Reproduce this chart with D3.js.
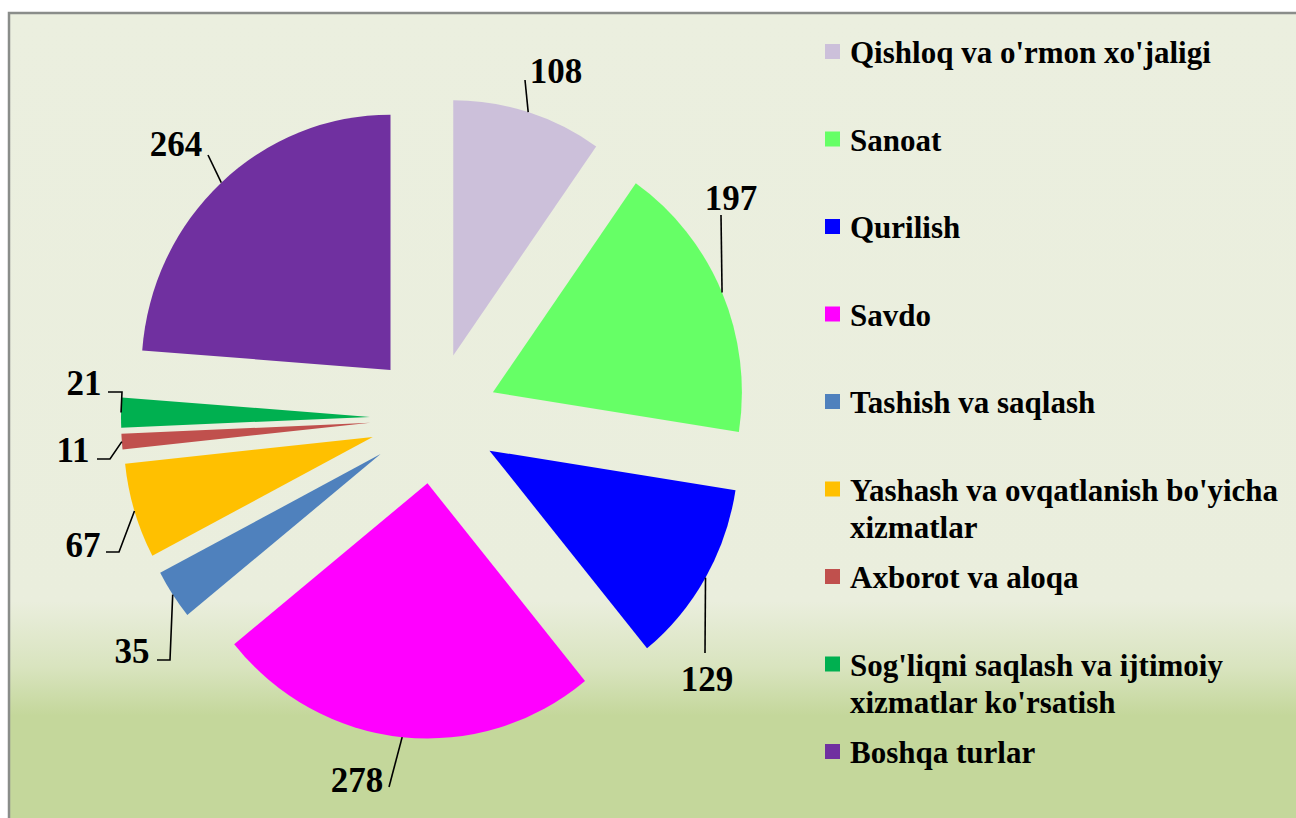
<!DOCTYPE html>
<html>
<head>
<meta charset="utf-8">
<script src="https://cdn.jsdelivr.net/npm/d3@7"></script>
<style>
  html, body { margin: 0; padding: 0; background: #fff; }
  svg { display: block; }
</style>
</head>
<body>
<svg id="chart" width="1296" height="818"></svg>
<script>
// categories, values and slice colours
const categories = [
  "Qishloq va o'rmon xo'jaligi",
  "Sanoat",
  "Qurilish",
  "Savdo",
  "Tashish va saqlash",
  "Yashash va ovqatlanish bo'yicha xizmatlar",
  "Axborot va aloqa",
  "Sog'liqni saqlash va ijtimoiy xizmatlar ko'rsatish",
  "Boshqa turlar"
];
const values = [108, 197, 129, 278, 35, 67, 11, 21, 264];
const colors = ["#ccc0da", "#66ff66", "#0000ff", "#ff00ff", "#4f81bd", "#ffc000", "#c0504d", "#00b050", "#7030a0"];

// data label placement: text anchor point + leader line bend points
const labelLayout = [
  { x: 556, y: 83,  pts: [[525, 80]] },
  { x: 731, y: 210, pts: [[721, 215]] },
  { x: 707, y: 691, pts: [[705, 653]] },
  { x: 357, y: 792, pts: [[389, 787]] },
  { x: 132, y: 663, pts: [[170, 660], [157, 660]] },
  { x: 83,  y: 557, pts: [[119, 552], [106, 552]] },
  { x: 73,  y: 462, pts: [[110, 459], [97, 459]] },
  { x: 84,  y: 395, pts: [[122, 392], [108, 392]] },
  { x: 176, y: 156, pts: [[208, 155]] }
];

const svg = d3.select("#chart");
const W = 1296, H = 818;

// background gradient
const defs = svg.append("defs");
const grad = defs.append("linearGradient")
  .attr("id", "bg").attr("x1", 0).attr("y1", 0).attr("x2", 0).attr("y2", 1);
grad.append("stop").attr("offset", "0%").attr("stop-color", "#ebefdf");
grad.append("stop").attr("offset", "72%").attr("stop-color", "#eaeedd");
grad.append("stop").attr("offset", "80%").attr("stop-color", "#d9e4bf");
grad.append("stop").attr("offset", "86%").attr("stop-color", "#c4d79b");
grad.append("stop").attr("offset", "100%").attr("stop-color", "#c4d79b");

svg.append("rect")
  .attr("x", 9).attr("y", 13)
  .attr("width", W + 20).attr("height", 817)
  .attr("fill", "url(#bg)")
  .attr("stroke", "#8a8d8a")
  .attr("stroke-width", 2.5);

// pie
const cx = 434, cy = 418, R = 249, explode = 64, sy = 1.025;

const pie = d3.pie().sort(null).value(d => d)(values);
const arc = d3.arc().innerRadius(0).outerRadius(R);

const g = svg.append("g")
  .attr("transform", `translate(${cx},${cy}) scale(1,${sy})`);

g.selectAll("path")
  .data(pie)
  .join("path")
  .attr("d", arc)
  .attr("fill", (d, i) => colors[i])
  .attr("transform", d => {
    const a = (d.startAngle + d.endAngle) / 2;
    return `translate(${explode * Math.sin(a)},${-explode * Math.cos(a)})`;
  });

// leader lines + labels
const lineGen = d3.line();
const labels = svg.append("g");

pie.forEach((d, i) => {
  const a = (d.startAngle + d.endAngle) / 2;
  const start = [cx + (explode + R) * Math.sin(a), cy - sy * (explode + R) * Math.cos(a)];
  const L = labelLayout[i];
  labels.append("path")
    .attr("d", lineGen([start, ...L.pts]))
    .attr("fill", "none")
    .attr("stroke", "#000")
    .attr("stroke-width", 1.6);
  labels.append("text")
    .attr("x", L.x).attr("y", L.y)
    .attr("text-anchor", "middle")
    .attr("font-family", "'Liberation Serif', 'Times New Roman', serif")
    .attr("font-weight", "bold")
    .attr("font-size", 35)
    .attr("fill", "#000")
    .text(values[i]);
});

// legend
const legend = svg.append("g");
const legX = 825, legY0 = 63, legStep = 87.5, lineH = 37, maxW = 440;

categories.forEach((name, i) => {
  const by = legY0 + i * legStep;
  legend.append("rect")
    .attr("x", legX).attr("y", by - 19)
    .attr("width", 15).attr("height", 15)
    .attr("fill", colors[i]);
  const t = legend.append("text")
    .attr("x", legX + 25).attr("y", by)
    .attr("font-family", "'Liberation Serif', 'Times New Roman', serif")
    .attr("font-weight", "bold")
    .attr("font-size", 31)
    .attr("fill", "#000");
  // simple word wrap
  const words = name.split(" ");
  let line = [], lineNo = 0;
  let tspan = t.append("tspan").attr("x", legX + 25).attr("y", by);
  words.forEach(w => {
    line.push(w);
    tspan.text(line.join(" "));
    if (tspan.node().getComputedTextLength() > maxW && line.length > 1) {
      line.pop();
      tspan.text(line.join(" "));
      line = [w];
      lineNo++;
      tspan = t.append("tspan").attr("x", legX + 25).attr("y", by + lineNo * lineH).text(w);
    }
  });
});
</script>
</body>
</html>
